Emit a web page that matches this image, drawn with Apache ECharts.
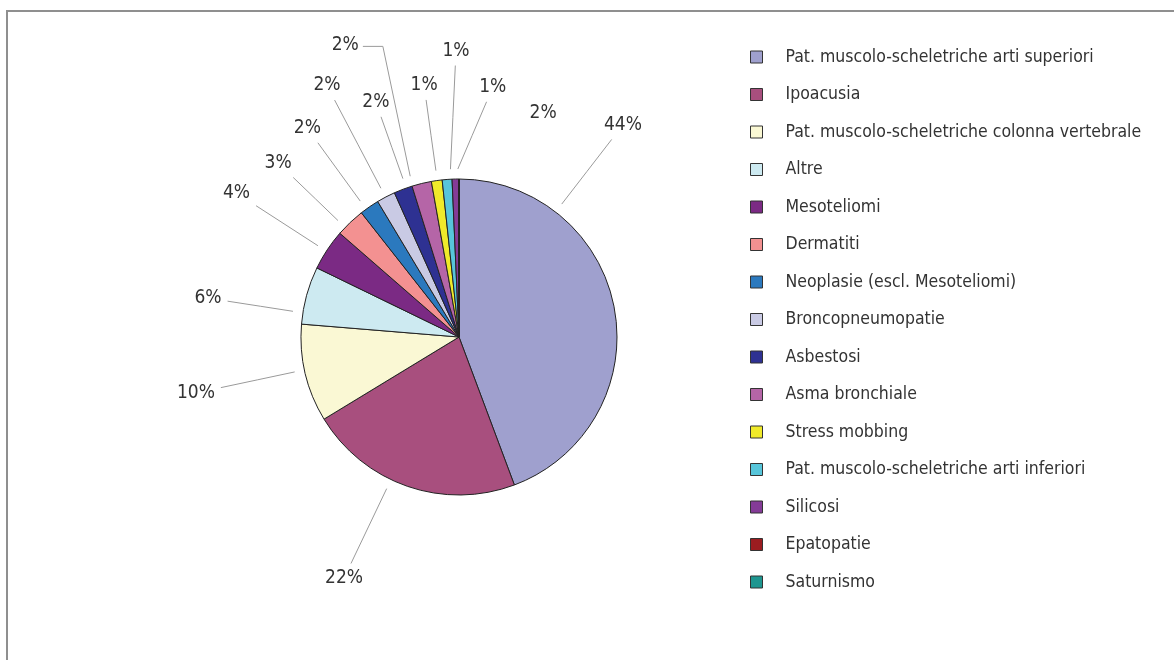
<!DOCTYPE html>
<html>
<head>
<meta charset="utf-8">
<script src="https://cdn.jsdelivr.net/npm/echarts@6/dist/echarts.min.js"></script>
<style>
  html, body { margin: 0; padding: 0; background: #fff; }
  #main { width: 1174px; height: 660px; }
</style>
</head>
<body>
<div id="main"></div>
<script>
const categories = [
  "Pat. muscolo-scheletriche arti superiori",
  "Ipoacusia",
  "Pat. muscolo-scheletriche colonna vertebrale",
  "Altre",
  "Mesoteliomi",
  "Dermatiti",
  "Neoplasie (escl. Mesoteliomi)",
  "Broncopneumopatie",
  "Asbestosi",
  "Asma bronchiale",
  "Stress mobbing",
  "Pat. muscolo-scheletriche arti inferiori",
  "Silicosi",
  "Epatopatie",
  "Saturnismo",
];
const shares = [44.3, 22.0, 10.0, 5.9, 4.2, 3.0, 2.0, 1.9, 1.9, 2.0, 1.1, 1.0, 0.7, 0, 0];
const pctLabels = ["44%", "22%", "10%", "6%", "4%", "3%", "2%", "2%", "2%", "2%", "1%", "1%", "1%", "2%", ""];
const colors = [
  "#9fa0ce", "#a84f7e", "#faf8d4", "#cdeaf1", "#7b2a84",
  "#f39191", "#2b79be", "#c9cae4", "#2e3192", "#b565a7",
  "#f0ea2a", "#57c5da", "#843b97", "#9b1c20", "#1e9690",
];

// where each percentage label sits: [angle clockwise from 12 o'clock, distance from centre, elbow stub]
const labelSpots = [
  [37.7, 268], [205.5, 267], [258, 269], [278.8, 254], [302.9, 265],
  [313.9, 251], [324, 258], [332.3, 284], [340.5, 249], [338.7, 313, 20],
  [352.1, 254], [359.4, 286], [7.7, 252], [20.6, 239], [0, 0],
];

(() => {
  let myChart = echarts.init(document.querySelector("#main"));
  let font = "'DejaVu Sans Condensed', sans-serif";
  let cx = 459, cy = 337;
  let total = shares.reduce((a, b) => a + b, 0);
  let sliceStart = [], sliceEnd = [];
  let acc = 0;
  shares.forEach((v) => {
    sliceStart.push((acc / total) * 360);
    acc += v;
    sliceEnd.push((acc / total) * 360);
  });
  let polar = (deg, r) => {
    let a = (deg * Math.PI) / 180;
    return [cx + r * Math.sin(a), cy - r * Math.cos(a)];
  };

  let option = {
    animation: false,
    color: colors,
    graphic: [
      {
        type: "rect",
        shape: { x: 7, y: 11, width: 1400, height: 900 },
        style: { fill: "none", stroke: "#8f8f8f", lineWidth: 2 },
        silent: true,
      },
    ],
    legend: {
      orient: "vertical",
      left: 750,
      top: 48,
      padding: 0,
      itemWidth: 12,
      itemHeight: 12,
      itemGap: 19.5,
      icon: "rect",
      itemStyle: { borderColor: "#333", borderWidth: 1 },
      textStyle: {
        fontFamily: font,
        fontSize: 17.5,
        color: "#333",
        padding: [0, 0, 0, 18],
      },
      data: categories,
    },
    series: [
      {
        type: "pie",
        center: [cx, cy],
        radius: 158,
        startAngle: 90,
        clockwise: true,
        avoidLabelOverlap: false,
        itemStyle: { borderColor: "#222", borderWidth: 1 },
        label: {
          show: true,
          position: "outside",
          fontFamily: font,
          fontSize: 19,
          color: "#333",
          formatter: (p) => pctLabels[p.dataIndex],
        },
        labelLine: {
          show: true,
          length: 20,
          length2: 0,
          lineStyle: { color: "#9a9a9a", width: 1 },
        },
        labelLayout: (p) => {
          let i = p.dataIndex;
          let s = labelSpots[i];
          let pos = polar(s[0], s[1]);
          let out = { x: pos[0], y: pos[1], align: "center", verticalAlign: "middle" };
          if (i < 13) {
            let t = s[0];
            let a0 = sliceStart[i], a1 = sliceEnd[i];
            if (t < a0 - 180) t += 360;
            if (t > a1 + 180) t -= 360;
            let pad = Math.min(0.4, (a1 - a0) / 2);
            t = Math.min(Math.max(t, a0 + pad), a1 - pad);
            let st = polar(t, 168);
            if (s[2]) {
              // horizontal stub off the label's right side, then down to the slice
              let en = [pos[0] + p.labelRect.width / 2 + 4, pos[1] + 1];
              let el = [en[0] + s[2], en[1]];
              out.labelLinePoints = [st, el, en];
            } else {
              let dx = st[0] - pos[0], dy = st[1] - pos[1];
              let hw = p.labelRect.width / 2 + 6, hh = p.labelRect.height / 2 + 5;
              let k = Math.min(hw / Math.max(Math.abs(dx), 1e-6), hh / Math.max(Math.abs(dy), 1e-6));
              let en = [pos[0] + dx * k, pos[1] + dy * k];
              out.labelLinePoints = [st, [(st[0] + en[0]) / 2, (st[1] + en[1]) / 2], en];
            }
          }
          return out;
        },
        emphasis: { disabled: true },
        data: categories.map((name, i) => ({
          name: name,
          value: shares[i],
          labelLine: { show: i < 13 },
        })),
      },
    ],
  };
  myChart.setOption(option);
  window.addEventListener("resize", () => {
    myChart.resize();
  });
})();
</script>
</body>
</html>
